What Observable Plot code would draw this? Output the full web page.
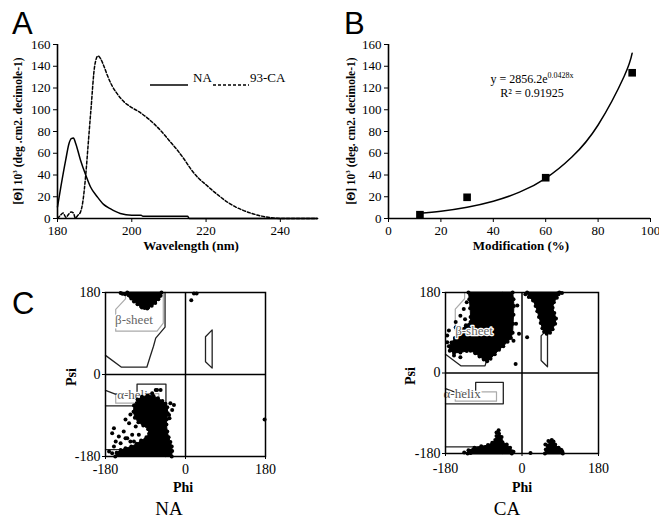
<!DOCTYPE html>
<html><head><meta charset="utf-8">
<script src="https://cdn.jsdelivr.net/npm/d3@7"></script>
<script src="https://cdn.jsdelivr.net/npm/@observablehq/plot@0.6"></script>
<style>
body{margin:0;background:#fff;}
#fig{position:relative;width:659px;height:521px;background:#fff;font-family:"Liberation Serif","Times New Roman",serif;color:#000;overflow:hidden}
#fig svg, #fig svg text{font-family:"Liberation Serif","Times New Roman",serif !important}
.abs{position:absolute;white-space:nowrap;line-height:1}
.letter{font-family:"Liberation Sans",Arial,sans-serif;font-size:31px}
.ttl{font-weight:bold;font-size:13px}
.ctr{transform:translate(-50%,-50%)}
.vt{transform:translate(-50%,-50%) rotate(-90deg)}
</style></head>
<body><div id="fig"></div>
<script>
// ---------- Panel A: CD spectra ----------
const naWavelength = [180,180.9,182.2,183.1,183.7,184.3,184.9,186.2,187.6,188.9,190.7,192.4,194.2,196.9,200,202.5,203,215,215.5,250];
const naTheta      = [10.7,29,53.6,69,73.5,74,69,53.6,40,29,20,13,9,4.6,3,3,2,2,0,0];
const caWavelength = [180,180.8,181.5,182.3,183,183.7,184.3,184.8,185.5,186.2,186.8,187.6,188.3,189,190,190.9,191.6,192.5,193.5,194.7,196,198,200,202,204,206,208,210,212,214,216,218,220,222,224,226,228,230,232,234,236,238,240,250];
const caTheta      = [0,3,5,1,4,6,5,0.5,3,6,15,40,70,100,140,149.5,147,140,131,122,115,107,102,98,93,87,80,72,64,55,45,37,31,25,19.5,14.5,10.5,7.5,5,3,1.5,0.5,0,0];
const xTicksA = [180,200,220,240];
const yTicksAB = [0,20,40,60,80,100,120,140,160];

// ---------- Panel B: modification ----------
const modPercent = [12,30,60,93];
const modTheta   = [3.5,19.5,37.5,134];
const fitPercent = [12,20,30,40,50,60,70,80,90,93];
const fitTheta   = [4.8,6.7,10.4,15.9,24.2,37,56.5,86,131,152];
const xTicksB = [0,20,40,60,80,100];

// ---------- Panel C: Ramachandran ----------
const ramaTicks = [-180,0,180];
const ramaTickLabels = ["-180","0","180"];
const betaBlack  = [[-180,42],[-144,16],[-87,16],[-80,38],[-72,62],[-67,80],[-46,104],[-46,180]];
const betaGray   = [[-135,180],[-135,166],[-157,143],[-157,95],[-64,95],[-50,113],[-50,180]];
const betaWrap   = [[-180,-165],[-45,-165],[-45,-180]];
const helixBlack = [[-180,-35],[-158,-43],[-109,-43],[-109,-21],[-44,-21],[-44,-69],[-180,-69]];
const helixGray  = [[-157,-42],[-60,-42],[-60,-63],[-157,-63]];
const leftHanded = [[45,83],[60,98],[60,14],[45,28]];

const naLabelText = ["β-sheet","α-helix"];
const naLabelPhi  = [-116,-112];
const naLabelPsi  = [120,-44];
const caLabelText = ["β-sheet","α-helix"];
const caLabelPhi  = [-113,-141];
const caLabelPsi  = [95,-46];

const naUpperBlob = [[-131,180],[-128,174],[-122,167],[-116,160],[-108,154],[-100,149],[-92,146],[-84,147],[-76,151],[-68,157],[-61,165],[-56,173],[-54,180]];
const naLowerBlob = [[-108,-55],[-98,-49],[-85,-46],[-72,-47],[-62,-52],[-52,-58],[-45,-64],[-41,-72],[-40,-85],[-42,-98],[-43,-110],[-41,-125],[-38,-138],[-34,-148],[-31,-158],[-30,-168],[-31,-180],[-158,-180],[-155,-172],[-146,-166],[-135,-162],[-122,-158],[-110,-152],[-100,-145],[-88,-138],[-82,-130],[-84,-120],[-95,-112],[-106,-105],[-114,-95],[-117,-82],[-116,-68]];
const naDots = [[-142,177],[-136,176],[-146,179],[-124,171],[-60,170],[-98,147],[-86,145],[19,178],[25,178],[13,163],[178,-99],
  [-75,-41],[-64,-34],[-56,-34],[-67,-34],[-26,-67],[-34,-63],[-30,-78],[-37,-89],[-36,-96],
  [-165,-129],[-161,-118],[-150,-136],[-139,-125],[-135,-140],[-146,-151],[-161,-158],[-124,-147],[-120,-132],[-112,-114],
  [-135,-99],[-124,-88],[-165,-173],[-172,-169],[-127,-107],[-105,-132],[-131,-140],[-157,-147],[-116,-147]];

const caUpperBlob = [[-126,180],[-124,165],[-122,145],[-121,125],[-121,114],[-132,107],[-142,98],[-150,88],[-158,78],[-166,68],[-172,60],[-170,50],[-160,45],[-145,46],[-130,49],[-121,50],[-110,44],[-100,37],[-90,30],[-82,26],[-74,32],[-64,42],[-54,52],[-44,60],[-34,70],[-26,78],[-22,90],[-21,110],[-20,130],[-19,150],[-20,165],[-22,180]];
const caUpperRightBlob = [[12,180],[16,170],[26,162],[32,150],[36,138],[40,125],[44,112],[48,100],[52,92],[58,88],[66,90],[72,98],[78,110],[80,122],[76,134],[72,146],[75,158],[82,168],[86,176],[88,180]];
const caLowerLeftBlob = [[-128,-180],[-126,-173],[-112,-167],[-96,-164],[-80,-161],[-70,-156],[-63,-150],[-60,-141],[-54,-136],[-48,-143],[-46,-155],[-36,-160],[-28,-167],[-24,-175],[-24,-180]];
const caLowerRightBlob = [[54,-180],[56,-171],[60,-162],[66,-154],[74,-153],[78,-160],[86,-167],[93,-172],[96,-180]];
const caDots = [[-137,143],[-145,128],[-156,102],[-172,95],[-176,69],[-176,84],[-152,80],[-146,54],[-145,35],[-160,39],[-148,99],[-156,114],[-130,158],[-134,120],
  [-11,151],[-7,88],[-15,20],[-20,72],[-14,110],[94,179],[12,80],[8,176],[84,178],
  [-121,-179],[-55,-128],[-60,-133],[-136,-178],[-20,-176],[-50,-150],[20,-179],[95,-176],[90,-171],[70,-150],[62,-152],[55,-160]];

// ---------- layout helpers ----------
const fig = document.getElementById("fig");
const serif = "Liberation Serif";
function place(node, left, top) {
  const d = document.createElement("div");
  d.className = "abs"; d.style.left = left + "px"; d.style.top = top + "px";
  d.appendChild(node); fig.appendChild(d); return d;
}
function text(html, x, y, cls, extra) {
  const d = document.createElement("div");
  d.className = "abs " + (cls || "");
  d.style.left = x + "px"; d.style.top = y + "px";
  if (extra) Object.assign(d.style, extra);
  d.innerHTML = html; fig.appendChild(d); return d;
}
const baseStyle = {fontFamily: serif, fontSize: "13px", color: "black", background: "transparent", overflow: "visible"};
const axisFont = {fontFamily: serif};

// ---------- Panel A ----------
const plotA = Plot.plot({
  width: 330, height: 260, marginLeft: 57, marginRight: 13, marginTop: 44, marginBottom: 42,
  x: {domain: [180, 250]}, y: {domain: [0, 160]},
  style: baseStyle,
  marks: [
    Plot.axisX({ticks: xTicksA, tickSize: 4, tickPadding: 3, label: null, ...axisFont, fontSize: 13}),
    Plot.axisY({ticks: yTicksAB, tickSize: 4, tickPadding: 3, label: null, ...axisFont, fontSize: 13}),
    Plot.line(naTheta, {x: naWavelength, y: naTheta, stroke: "black", strokeWidth: 1.5, curve: "monotone-x"}),
    Plot.line(caTheta, {x: caWavelength, y: caTheta, stroke: "black", strokeWidth: 1.5, strokeDasharray: "3,2", curve: "monotone-x"}),
    Plot.ruleY([0], {strokeWidth: 1.6}),
    Plot.ruleX([180], {strokeWidth: 1.6})
  ]
});
place(plotA, 0, 0);

// ---------- Panel B ----------
const plotB = Plot.plot({
  width: 329, height: 260, marginLeft: 58, marginRight: 9, marginTop: 44, marginBottom: 42,
  x: {domain: [0, 100]}, y: {domain: [0, 160]},
  style: baseStyle,
  marks: [
    Plot.axisX({ticks: xTicksB, tickSize: 4, tickPadding: 3, label: null, ...axisFont, fontSize: 13}),
    Plot.axisY({ticks: yTicksAB, tickSize: 4, tickPadding: 3, label: null, ...axisFont, fontSize: 13}),
    Plot.line(fitTheta, {x: fitPercent, y: fitTheta, stroke: "black", strokeWidth: 1.5, curve: "natural"}),
    Plot.dot(modTheta, {x: modPercent, y: modTheta, symbol: "square", r: 4.3, fill: "black", stroke: "none"}),
    Plot.ruleY([0], {strokeWidth: 1.6}),
    Plot.ruleX([0], {strokeWidth: 1.6})
  ]
});
place(plotB, 330, 0);

// ---------- Panel C ----------
function rama(blobs, dots, labels, margins) {
  const xy = {x: d => d[0], y: d => d[1]};
  const marks = [
    Plot.axisX({ticks: ramaTicks, tickFormat: (d, i) => ramaTickLabels[i], tickSize: 3, tickPadding: margins.xPad, label: null, ...axisFont, fontSize: 14}),
    Plot.axisY({ticks: ramaTicks, tickFormat: (d, i) => ramaTickLabels[i], tickSize: 3, tickPadding: 2, label: null, ...axisFont, fontSize: 14}),
    Plot.line(betaGray, {...xy, stroke: "#aaa", strokeWidth: 1.2}),
    Plot.line(helixGray, {...xy, stroke: "#aaa", strokeWidth: 1.2, curve: "linear-closed"}),
    Plot.line(betaBlack, {...xy, stroke: "#222", strokeWidth: 1.3}),
    Plot.line(betaWrap, {...xy, stroke: "#222", strokeWidth: 1.3}),
    Plot.line(helixBlack, {...xy, stroke: "#222", strokeWidth: 1.3}),
    Plot.line(leftHanded, {...xy, stroke: "#222", strokeWidth: 1.3, curve: "linear-closed"}),
    Plot.text(labels.text, {x: labels.phi, y: labels.psi, text: d => d, fill: "#555", stroke: "white", strokeWidth: 2.5, paintOrder: "stroke", fontSize: 13, ...axisFont})
  ];
  for (const b of blobs) {
    marks.push(Plot.line(b, {...xy, fill: "black", stroke: "black", strokeWidth: 1, curve: "linear-closed"}));
    marks.push(Plot.dot(b, {...xy, r: 2, fill: "black", stroke: "none"}));
  }
  marks.push(Plot.dot(dots, {...xy, r: 2, fill: "black", stroke: "none"}));
  marks.push(Plot.text(labels.text.slice(0, 1), {x: labels.phi.slice(0, 1), y: labels.psi.slice(0, 1), text: d => d, fill: "#666", stroke: "white", strokeWidth: 2.5, paintOrder: "stroke", fontSize: 13, ...axisFont}));
  marks.push(Plot.ruleX([0], {strokeWidth: 1.5}));
  marks.push(Plot.ruleY([0], {strokeWidth: 1.5}));
  marks.push(Plot.frame({stroke: "black", strokeWidth: 1.5}));
  return Plot.plot({
    width: 240, height: 210, marginLeft: 55, marginRight: margins.right, marginTop: 12, marginBottom: margins.bottom,
    x: {domain: [-180, 180]}, y: {domain: [-180, 180]},
    style: {...baseStyle, fontSize: "14px"},
    marks
  });
}
place(rama([naUpperBlob, naLowerBlob], naDots, {text: naLabelText, phi: naLabelPhi, psi: naLabelPsi}, {right: 25, bottom: 34, xPad: 5}), 50, 280);
place(rama([caUpperBlob, caUpperRightBlob, caLowerLeftBlob, caLowerRightBlob], caDots, {text: caLabelText, phi: caLabelPhi, psi: caLabelPsi}, {right: 32, bottom: 37, xPad: 7}), 390, 280);

// ---------- text ----------
text("A", 12, 8, "letter");
text("B", 344, 8, "letter");
text("C", 12, 288, "letter");
text("[Θ] 10<sup style='font-size:7px;vertical-align:5px'>3</sup> (deg .cm2. decimole-1)", 18, 131, "ttl vt", {fontSize: "11.5px"});
text("[Θ] 10<sup style='font-size:7px;vertical-align:5px'>3</sup> (deg. cm2. decimole-1)", 351, 131, "ttl vt", {fontSize: "11.5px"});
text("Wavelength (nm)", 191, 245, "ttl ctr");
text("Modification (%)", 521, 245, "ttl ctr");
text("Psi", 72, 377, "ttl vt", {fontSize: "14px"});
text("Phi", 183, 488, "ttl ctr", {fontSize: "14px"});
text("Psi", 411, 376, "ttl vt", {fontSize: "14px"});
text("Phi", 522, 488, "ttl ctr", {fontSize: "14px"});
text("NA", 169, 508, "ctr", {fontSize: "19px"});
text("CA", 507, 508, "ctr", {fontSize: "19px"});
text("y = 2856.2e<sup style='font-size:8px;vertical-align:5px'>0.0428x</sup>", 532, 78, "ctr", {fontSize: "12px"});
text("R² = 0.91925", 532, 93, "ctr", {fontSize: "12px"});
// legend
text("<svg width='38' height='4' style='vertical-align:middle'><line x1='0' y1='2' x2='38' y2='2' stroke='black' stroke-width='1.5'/></svg>", 150, 76, "");
text("NA", 193, 71, "", {fontSize: "13px"});
text("<svg width='36' height='4' style='vertical-align:middle'><line x1='0' y1='2' x2='36' y2='2' stroke='black' stroke-width='1.5' stroke-dasharray='3,2'/></svg>", 213, 76, "");
text("93-CA", 250, 71, "", {fontSize: "13px"});
</script>
</body></html>
